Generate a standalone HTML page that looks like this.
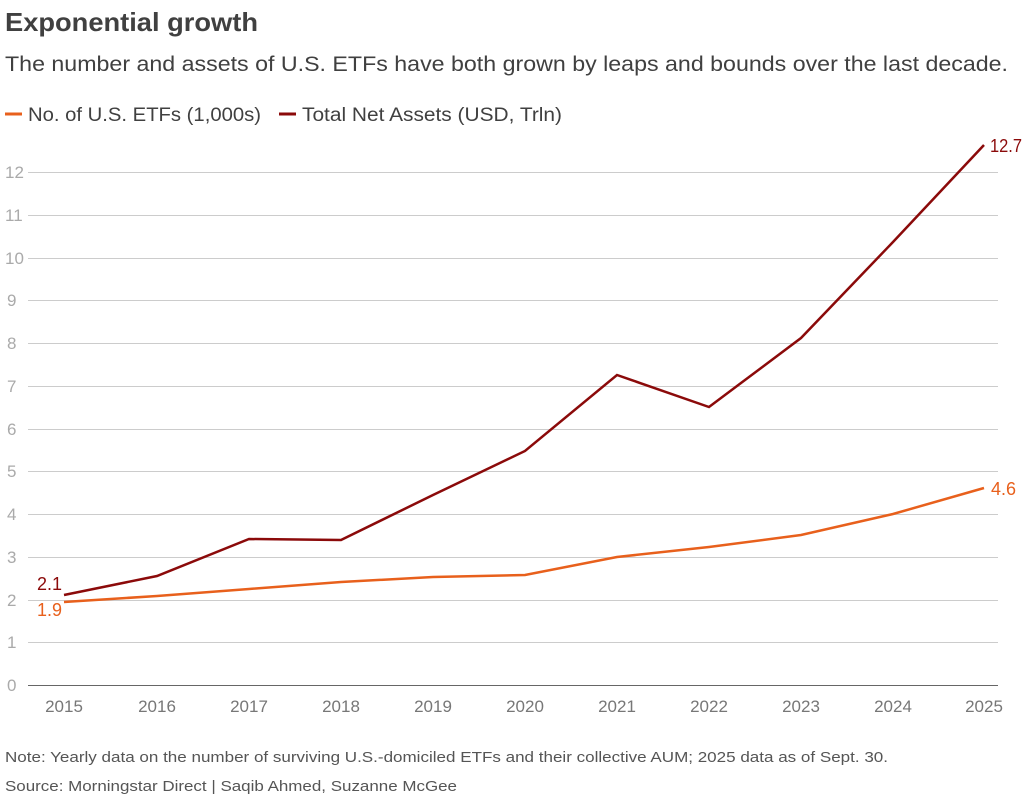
<!DOCTYPE html>
<html><head><meta charset="utf-8"><style>
body{margin:0;background:#fff;width:1024px;height:799px;overflow:hidden;font-family:"Liberation Sans",sans-serif;color:#333}
</style></head><body>
<svg width="1024" height="799" xmlns="http://www.w3.org/2000/svg" font-family="Liberation Sans, sans-serif">
<text x="5" y="31" font-size="26" font-weight="bold" fill="#404040" textLength="253" lengthAdjust="spacingAndGlyphs">Exponential growth</text>
<text x="5" y="71" font-size="21" fill="#404040" textLength="1003" lengthAdjust="spacingAndGlyphs">The number and assets of U.S. ETFs have both grown by leaps and bounds over the last decade.</text>
<line x1="5" y1="114" x2="22" y2="114" stroke="#e8601c" stroke-width="3"/>
<text x="28" y="121" font-size="19" fill="#404040" textLength="233" lengthAdjust="spacingAndGlyphs">No. of U.S. ETFs (1,000s)</text>
<line x1="279" y1="114" x2="296" y2="114" stroke="#8b0a0a" stroke-width="3"/>
<text x="302" y="121" font-size="19" fill="#404040" textLength="260" lengthAdjust="spacingAndGlyphs">Total Net Assets (USD, Trln)</text>
<g stroke="#cccccc" stroke-width="1">
<line x1="28" x2="998" y1="172.5" y2="172.5"/><line x1="28" x2="998" y1="215.5" y2="215.5"/><line x1="28" x2="998" y1="258.5" y2="258.5"/><line x1="28" x2="998" y1="300.5" y2="300.5"/><line x1="28" x2="998" y1="343.5" y2="343.5"/><line x1="28" x2="998" y1="386.5" y2="386.5"/><line x1="28" x2="998" y1="429.5" y2="429.5"/><line x1="28" x2="998" y1="471.5" y2="471.5"/><line x1="28" x2="998" y1="514.5" y2="514.5"/><line x1="28" x2="998" y1="557.5" y2="557.5"/><line x1="28" x2="998" y1="600.5" y2="600.5"/><line x1="28" x2="998" y1="642.5" y2="642.5"/>
</g>
<line x1="28" x2="998" y1="685.5" y2="685.5" stroke="#666" stroke-width="1"/>
<g font-size="17" fill="#aaa">
<text x="5" y="178">12</text><text x="5" y="221">11</text><text x="5" y="264">10</text><text x="7" y="306">9</text><text x="7" y="349">8</text><text x="7" y="392">7</text><text x="7" y="435">6</text><text x="7" y="477">5</text><text x="7" y="520">4</text><text x="7" y="563">3</text><text x="7" y="606">2</text><text x="7" y="648">1</text><text x="7" y="691">0</text>
</g>
<g font-size="17" fill="#777" text-anchor="middle">
<text x="64" y="712">2015</text><text x="157" y="712">2016</text><text x="249" y="712">2017</text><text x="341" y="712">2018</text><text x="433" y="712">2019</text><text x="525" y="712">2020</text><text x="617" y="712">2021</text><text x="709" y="712">2022</text><text x="801" y="712">2023</text><text x="893" y="712">2024</text><text x="984" y="712">2025</text>
</g>
<polyline fill="none" stroke="#e8601c" stroke-width="2.5" points="64,602 157,596 249,589 341,582 433,577 525,575 617,557 709,547 801,535 893,514 984,488"/>
<polyline fill="none" stroke="#8b0a0a" stroke-width="2.5" points="64,595 157,576 249,539 341,540 433,495 525,451 617,375 709,407 801,338 893,242 984,145"/>
<text x="37" y="590" font-size="18" fill="#8b0a0a">2.1</text>
<text x="37" y="616" font-size="18" fill="#e8601c">1.9</text>
<text x="990" y="152" font-size="18" fill="#8b0a0a" textLength="32" lengthAdjust="spacingAndGlyphs">12.7</text>
<text x="991" y="495" font-size="18" fill="#e8601c">4.6</text>
<text x="5" y="762" font-size="15" fill="#555" textLength="883" lengthAdjust="spacingAndGlyphs">Note: Yearly data on the number of surviving U.S.-domiciled ETFs and their collective AUM; 2025 data as of Sept. 30.</text>
<text x="5" y="791" font-size="15" fill="#555" textLength="452" lengthAdjust="spacingAndGlyphs">Source: Morningstar Direct  | Saqib Ahmed, Suzanne McGee</text>
</svg>
</body></html>
